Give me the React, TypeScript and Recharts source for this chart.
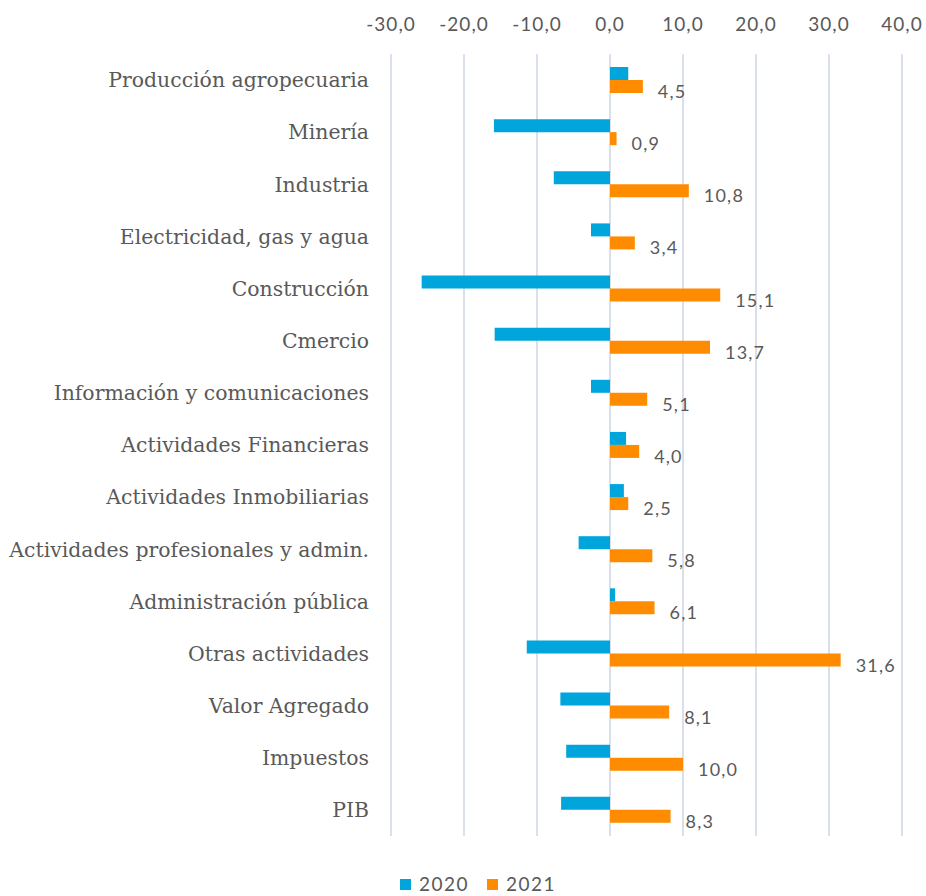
import { BarChart, Bar, XAxis, YAxis, CartesianGrid, LabelList, Legend } from 'recharts';

const categories = [
    'Producción agropecuaria',
    'Minería',
    'Industria',
    'Electricidad, gas y agua',
    'Construcción',
    'Cmercio',
    'Información y comunicaciones',
    'Actividades Financieras',
    'Actividades Inmobiliarias',
    'Actividades profesionales y admin.',
    'Administración pública',
    'Otras actividades',
    'Valor Agregado',
    'Impuestos',
    'PIB',
];

const values2020 = [2.5, -15.9, -7.7, -2.6, -25.8, -15.8, -2.6, 2.2, 1.9, -4.3, 0.7, -11.4, -6.8, -6.0, -6.7];
const values2021 = [4.5, 0.9, 10.8, 3.4, 15.1, 13.7, 5.1, 4.0, 2.5, 5.8, 6.1, 31.6, 8.1, 10.0, 8.3];
const xTicks = [-30, -20, -10, 0, 10, 20, 30, 40];

const data = categories.map((name, i) => ({ name, y2020: values2020[i], y2021: values2021[i] }));

const BLUE = '#00A6DB';
const ORANGE = '#FF8C00';
const TEXT = '#595959';
const numFont = 'Lato, "Open Sans", sans-serif';
const catFont = '"DejaVu Serif", serif';

const fmt = (v: number) => v.toFixed(1).replace('.', ',');

function BarLabel(props: any) {
    const { x, y, width, height, value } = props;
    return (
        <text x={x + width + 15} y={y + height / 2 + 7} fill={TEXT} fontSize={18} letterSpacing={1.2} fontFamily={numFont} dominantBaseline="middle">
            {fmt(value)}
        </text>
    );
}

function LegendContent() {
    return (
        <div style={{ height: 60, display: 'flex', justifyContent: 'center', alignItems: 'flex-end', gap: 18, fontFamily: numFont, fontSize: 19, letterSpacing: 1.5, color: TEXT, paddingLeft: 54, boxSizing: 'border-box' }}>
            <span style={{ display: 'flex', alignItems: 'center', gap: 8 }}>
                <span style={{ width: 11, height: 11, background: BLUE, display: 'inline-block' }} />2020
            </span>
            <span style={{ display: 'flex', alignItems: 'center', gap: 8 }}>
                <span style={{ width: 11, height: 11, background: ORANGE, display: 'inline-block' }} />2021
            </span>
        </div>
    );
}

export default function App() {
    return (
        <div style={{ position: 'absolute', left: 0, top: 0, background: '#fff' }}>
            <BarChart
                width={926}
                height={896}
                data={data}
                layout="vertical"
                margin={{ top: 0, right: 24, bottom: 0, left: 0 }}
                barGap={0}
                barSize={13}
            >
                <CartesianGrid horizontal={false} stroke="#D9E0EC" strokeWidth={2} />
                <XAxis
                    type="number"
                    orientation="top"
                    domain={[-30, 40]}
                    ticks={xTicks}
                    tickFormatter={fmt}
                    axisLine={false}
                    tickLine={false}
                    tickSize={0}
                    tickMargin={23}
                    height={54}
                    tick={{ fill: TEXT, fontSize: 19, fontFamily: numFont, letterSpacing: 1 }}
                />
                <YAxis
                    type="category"
                    dataKey="name"
                    width={391}
                    axisLine={false}
                    tickLine={false}
                    tickSize={0}
                    tickMargin={22}
                    interval={0}
                    tick={{ fill: TEXT, fontSize: 20.4, fontFamily: catFont }}
                />
                <Legend verticalAlign="bottom" height={60} content={<LegendContent />} wrapperStyle={{ bottom: 2, lineHeight: '20px' }} />
                <Bar dataKey="y2020" name="2020" fill={BLUE} isAnimationActive={false} />
                <Bar dataKey="y2021" name="2021" fill={ORANGE} isAnimationActive={false}>
                    <LabelList dataKey="y2021" content={<BarLabel />} />
                </Bar>
            </BarChart>
        </div>
    );
}
